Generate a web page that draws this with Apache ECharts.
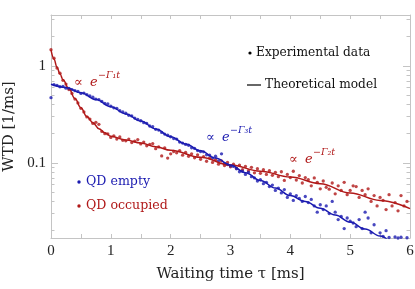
<!DOCTYPE html>
<html>
<head>
<meta charset="utf-8">
<script src="https://cdn.jsdelivr.net/npm/echarts@6/dist/echarts.min.js"></script>
<style>html,body{margin:0;padding:0;background:#fff}#c{width:415px;height:289px}</style>
</head>
<body>
<div id="c"></div>
<script>
// ---- data ----
const times = [0.00,0.05,0.10,0.15,0.20,0.25,0.30,0.35,0.40,0.45,
0.50,0.55,0.60,0.65,0.70,0.75,0.80,0.85,0.90,0.95,
1.00,1.05,1.10,1.15,1.20,1.25,1.30,1.35,1.40,1.45,
1.50,1.55,1.60,1.65,1.70,1.75,1.80,1.85,1.90,1.95,
2.00,2.05,2.10,2.15,2.20,2.25,2.30,2.35,2.40,2.45,
2.50,2.55,2.60,2.65,2.70,2.75,2.80,2.85,2.90,2.95,
3.00,3.05,3.10,3.15,3.20,3.25,3.30,3.35,3.40,3.45,
3.50,3.55,3.60,3.65,3.70,3.75,3.80,3.85,3.90,3.95,
4.00,4.05,4.10,4.15,4.20,4.25,4.30,4.35,4.40,4.45,
4.50,4.55,4.60,4.65,4.70,4.75,4.80,4.85,4.90,4.95,
5.00,5.05,5.10,5.15,5.20,5.25,5.30,5.35,5.40,5.45,
5.50,5.55,5.60,5.65,5.70,5.75,5.80,5.85,5.90,5.95];

const occupiedData = [1.47,1.20,0.95,0.84,0.71,0.65,0.57,0.52,0.455,0.415,
0.365,0.335,0.298,0.283,0.255,0.262,0.25,0.211,0.2,0.199,
0.183,0.19,0.176,0.185,0.171,0.169,0.176,0.162,0.168,0.174,
0.157,0.164,0.150,0.155,0.158,0.140,0.146,0.118,0.143,0.112,
0.124,0.131,0.127,0.134,0.120,0.128,0.117,0.124,0.113,0.121,
0.109,0.116,0.104,0.112,0.101,0.108,0.097,0.105,0.094,0.101,
0.091,0.097,0.088,0.095,0.085,0.092,0.083,0.090,0.079,0.087,
0.078,0.085,0.076,0.083,0.0745,0.080,0.072,0.081,0.066,0.076,
0.0705,0.082,0.0665,0.074,0.062,0.0705,0.067,0.058,0.070,0.063,
0.054,0.065,0.056,0.0535,0.062,0.048,0.058,0.052,0.063,0.047,
0.052,0.058,0.057,0.044,0.052,0.047,0.054,0.040,0.046,0.036,
0.044,0.041,0.033,0.047,0.036,0.039,0.032,0.046,0.036,0.040];

const emptyData = [0.47,0.64,0.63,0.61,0.615,0.59,0.585,0.57,0.555,0.545,
0.52,0.525,0.505,0.49,0.475,0.455,0.45,0.43,0.41,0.405,
0.385,0.37,0.365,0.345,0.335,0.325,0.31,0.305,0.29,0.28,
0.272,0.26,0.255,0.24,0.236,0.222,0.218,0.206,0.198,0.193,
0.186,0.178,0.176,0.164,0.160,0.155,0.152,0.143,0.141,0.134,
0.131,0.130,0.121,0.12,0.112,0.117,0.105,0.124,0.099,0.096,
0.093,0.092,0.087,0.081,0.082,0.076,0.08,0.072,0.07,0.065,
0.067,0.061,0.063,0.057,0.059,0.052,0.055,0.049,0.053,0.044,
0.048,0.041,0.046,0.043,0.040,0.045,0.039,0.042,0.036,0.031,
0.037,0.033,0.036,0.030,0.040,0.031,0.026,0.028,0.021,0.027,
0.025,0.024,0.022,0.026,0.021,0.031,0.027,0.019,0.023,0.016,
0.019,0.0175,0.02,0.017,0.0145,0.0172,0.0168,0.0171,0.015,0.0169];

const occModelT = [0,0.05,0.1,0.15,0.2,0.3,0.4,0.5,0.6,0.7,0.8,0.9,1.0,1.25,1.5,1.75,2,2.5,3,3.5,4,4.5,5,5.5,6];
const occModel  = [1.46,1.18,0.97,0.83,0.72,0.58,0.46,0.37,0.30,0.26,0.225,0.205,0.188,0.172,0.16,0.147,0.135,0.114,0.095,0.082,0.0716,0.061,0.049,0.041,0.0337];

const emptyModelT = [0,0.25,0.5,0.75,1,1.25,1.5,1.75,2,2.25,2.5,2.75,3,3.25,3.5,3.75,4,4.25,4.5,4.75,5,5.25,5.5,5.75,6];
const emptyModel  = [0.647,0.60,0.53,0.45,0.38,0.32,0.27,0.224,0.186,0.157,0.133,0.112,0.095,0.079,0.066,0.055,0.046,0.040,0.034,0.029,0.0245,0.0208,0.0176,0.0148,0.0125];

const xTickLabels = [0,1,2,3,4,5,6];
const yTickLabels = [0.1,1];
const yMinorTicks = [0.02,0.03,0.04,0.05,0.06,0.07,0.08,0.09,0.2,0.3,0.4,0.5,0.6,0.7,0.8,0.9,2,3];

// ---- style ----
const BLUE = '#1a1ab0';
const RED = '#b01818';
const AXIS = '#c4c4c4';
const SERIF = '"DejaVu Serif", serif';
const DIGITS = '"Liberation Serif", serif';
const yMin = 0.0168, yMax = 3.35;

const pairs = (xs, ys) => xs.map((x, i) => [x, ys[i]]);

function yAx(pos, major, extra) {
  return Object.assign({
    type: 'log', logBase: 10, min: yMin, max: yMax, position: pos, gridIndex: 0,
    axisLine: { show: true, lineStyle: { color: AXIS, width: 1 } },
    axisTick: { show: true, inside: true, length: major ? 7 : 3.5,
      customValues: major ? yTickLabels : yMinorTicks,
      lineStyle: { color: AXIS, width: 1 } },
    axisLabel: { show: false },
    splitLine: { show: false }, minorTick: { show: false }
  }, extra || {});
}
function xAx(pos, extra) {
  return Object.assign({
    type: 'value', min: 0, max: 6, interval: 0.5, position: pos, gridIndex: 0,
    axisLine: { show: true, onZero: false, lineStyle: { color: AXIS, width: 1 } },
    axisTick: { show: true, inside: true, length: 4, lineStyle: { color: AXIS, width: 1 } },
    axisLabel: { show: false },
    splitLine: { show: false }
  }, extra || {});
}

const chart = echarts.init(document.getElementById('c'), null, { renderer: 'canvas' });
chart.setOption({
  animation: false,
  backgroundColor: '#fff',
  grid: { left: 51, right: 5, top: 15, bottom: 51, containLabel: false, outerBoundsMode: 'none' },
  xAxis: [
    xAx('bottom', {
      name: 'Waiting time τ [ms]', nameLocation: 'middle', nameGap: 29,
      nameTextStyle: { fontFamily: SERIF, fontSize: 15, color: '#222' },
      axisLabel: { show: true, customValues: xTickLabels, margin: 6,
        fontFamily: DIGITS, fontSize: 15, color: '#222' }
    }),
    xAx('top')
  ],
  yAxis: [
    yAx('left', true, {
      name: 'WTD [1/ms]', nameLocation: 'middle', nameGap: 31, nameRotate: 90,
      nameTextStyle: { fontFamily: SERIF, fontSize: 15, color: '#222' },
      axisLabel: { show: true, customValues: yTickLabels, margin: 5,
        fontFamily: DIGITS, fontSize: 15, color: '#222',
        formatter: v => (Math.abs(v - 1) < 1e-9 ? '1' : '0.1') }
    }),
    yAx('left', false, { axisLine: { show: false } }),
    yAx('right', true),
    yAx('right', false, { axisLine: { show: false } })
  ],
  series: [
    { type: 'scatter', name: 'QD occupied', data: pairs(times, occupiedData), symbolSize: 3.3,
      itemStyle: { color: RED }, xAxisIndex: 0, yAxisIndex: 0, z: 2 },
    { type: 'scatter', name: 'QD empty', data: pairs(times, emptyData), symbolSize: 3.3,
      itemStyle: { color: BLUE }, xAxisIndex: 0, yAxisIndex: 0, z: 2 },
    { type: 'line', data: pairs(occModelT, occModel), smooth: 0.4, smoothMonotone: 'x', showSymbol: false,
      lineStyle: { color: RED, width: 1.5 }, xAxisIndex: 0, yAxisIndex: 0, z: 3, clip: true },
    { type: 'line', data: pairs(emptyModelT, emptyModel), smooth: 0.4, smoothMonotone: 'x', showSymbol: false,
      lineStyle: { color: BLUE, width: 1.5 }, xAxisIndex: 0, yAxisIndex: 0, z: 3, clip: true }
  ],
  graphic: [
    // legend
    { type: 'circle', shape: { cx: 250, cy: 53, r: 1.6 }, style: { fill: '#000' } },
    { type: 'text', style: { text: 'Experimental data', x: 256, y: 53, fill: '#111',
        font: '12.2px ' + SERIF, textVerticalAlign: 'middle' } },
    { type: 'line', shape: { x1: 247, y1: 85, x2: 261, y2: 85 }, style: { stroke: '#000', lineWidth: 1.2 } },
    { type: 'text', style: { text: 'Theoretical model', x: 265, y: 85, fill: '#111',
        font: '12.2px ' + SERIF, textVerticalAlign: 'middle' } },
    { type: 'circle', shape: { cx: 79, cy: 182, r: 1.7 }, style: { fill: BLUE } },
    { type: 'text', style: { text: 'QD empty', x: 86, y: 182, fill: BLUE,
        font: '12.6px ' + SERIF, textVerticalAlign: 'middle' } },
    { type: 'circle', shape: { cx: 79, cy: 206, r: 1.7 }, style: { fill: RED } },
    { type: 'text', style: { text: 'QD occupied', x: 86, y: 206, fill: RED,
        font: '12.6px ' + SERIF, textVerticalAlign: 'middle' } },
    // annotations
    { type: 'text', style: { text: '∝ ', x: 74, y: 83, fill: RED, font: '13px ' + SERIF, textVerticalAlign: 'middle' } },
    { type: 'text', style: { text: 'e', x: 90, y: 83, fill: RED, font: 'italic 13px ' + SERIF, textVerticalAlign: 'middle' } },
    { type: 'text', style: { text: '−Γ₁t', x: 98, y: 76, fill: RED, font: 'italic 9.5px ' + SERIF, textVerticalAlign: 'middle' } },
    { type: 'text', style: { text: '∝ ', x: 206, y: 138, fill: BLUE, font: '13px ' + SERIF, textVerticalAlign: 'middle' } },
    { type: 'text', style: { text: 'e', x: 222, y: 138, fill: BLUE, font: 'italic 13px ' + SERIF, textVerticalAlign: 'middle' } },
    { type: 'text', style: { text: '−Γ₃t', x: 230, y: 131, fill: BLUE, font: 'italic 9.5px ' + SERIF, textVerticalAlign: 'middle' } },
    { type: 'text', style: { text: '∝ ', x: 289, y: 160, fill: RED, font: '13px ' + SERIF, textVerticalAlign: 'middle' } },
    { type: 'text', style: { text: 'e', x: 305, y: 160, fill: RED, font: 'italic 13px ' + SERIF, textVerticalAlign: 'middle' } },
    { type: 'text', style: { text: '−Γ₂t', x: 313, y: 153, fill: RED, font: 'italic 9.5px ' + SERIF, textVerticalAlign: 'middle' } }
  ]
});
</script>
</body>
</html>
